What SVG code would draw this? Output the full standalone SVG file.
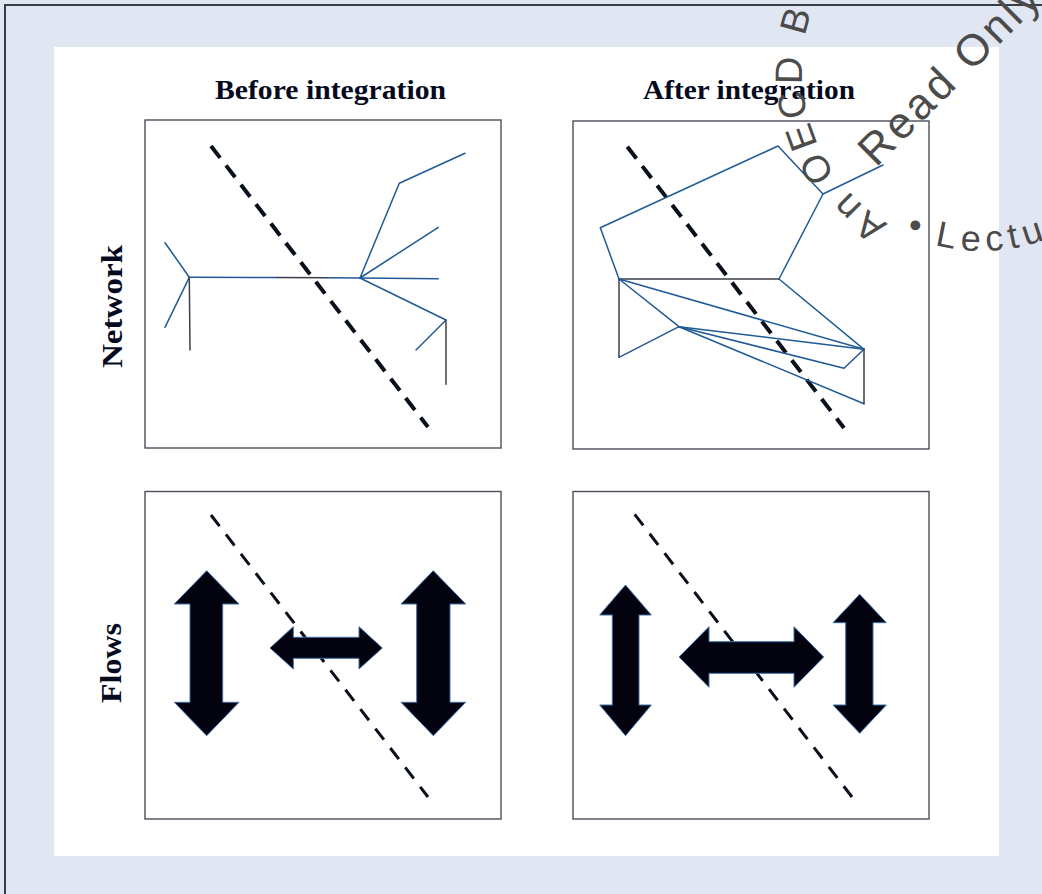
<svg xmlns="http://www.w3.org/2000/svg" width="1042" height="894" viewBox="0 0 1042 894">
<style>
.title{font-family:"Liberation Serif","Times New Roman",serif;font-weight:bold;fill:#050a1e;}
.panel{fill:#ffffff;stroke:#4a4f5a;stroke-width:1.4;}
.net{fill:none;stroke:#1f5a96;stroke-width:1.5;stroke-linecap:round;stroke-linejoin:round;}
.netg{fill:none;stroke:#3a3f48;stroke-width:1.5;stroke-linecap:round;}
.dnet{fill:none;stroke:#0a0f1e;stroke-width:4;stroke-dasharray:15 9.5;}
.dflow{fill:none;stroke:#0a0f1e;stroke-width:3;stroke-dasharray:14 10.5;}
.arrow{fill:#02030f;stroke:#3b6fa8;stroke-width:1;stroke-linejoin:miter;}
.wm{font-family:"Liberation Sans",Arial,sans-serif;fill:#4b4b4b;}
</style>
<defs>
<path id="arcTop" d="M 892,225.9 A 180,180 0 0,1 1072,-85.9"/>
<path id="arcBot" d="M 825.25,160.5 A 181,181 0 0,0 1163,70"/>
</defs>
<rect x="0" y="0" width="1042" height="894" fill="#e1e6f3"/>
<rect x="5" y="5" width="1100" height="1000" fill="none" stroke="#3c3c44" stroke-width="2"/>
<rect x="54" y="47" width="945" height="809" fill="#ffffff"/>

<g id="labels">
<text class="title" x="215" y="99" font-size="28" textLength="231" lengthAdjust="spacingAndGlyphs">Before integration</text>
<text class="title" x="643" y="99" font-size="28" textLength="212" lengthAdjust="spacingAndGlyphs">After integration</text>
<text class="title" font-size="30" transform="translate(121.5,368) rotate(-90)" textLength="123" lengthAdjust="spacingAndGlyphs">Network</text>
<text class="title" font-size="30" transform="translate(121,703) rotate(-90)" textLength="80" lengthAdjust="spacingAndGlyphs">Flows</text>
</g>

<g id="panel-network-before">
<rect class="panel" x="145" y="120" width="356" height="328"/>
<line class="dnet" x1="211" y1="146" x2="428" y2="427"/>
<g id="connectors-before">
<polyline class="net" points="165,242.7 189.3,277.3 165,327.3"/>
<line class="netg" x1="189.3" y1="277.3" x2="190" y2="350"/>
<line class="net" x1="189.3" y1="277.3" x2="277" y2="277.6"/>
<line class="netg" x1="277" y1="277.6" x2="327" y2="277.8"/>
<line class="net" x1="327" y1="277.8" x2="360" y2="278"/>
<polyline class="net" points="360,278 399.3,183.3 465,153.3"/>
<line class="net" x1="360" y1="278" x2="438.3" y2="227.3"/>
<line class="net" x1="360" y1="278" x2="438.3" y2="278.7"/>
<polyline class="net" points="360,278 446,320 416,350"/>
<line class="netg" x1="446" y1="320" x2="446" y2="384.3"/>
</g>
</g>

<g id="panel-network-after">
<rect class="panel" x="573" y="121" width="356" height="328"/>
<line class="dnet" x1="627.3" y1="146.7" x2="844" y2="428"/>
<g id="connectors-after">
<polyline class="net" points="619,279 600.3,227.7 778,146 823,194 883,165"/>
<line class="net" x1="823" y1="194" x2="779" y2="279"/>
<line class="netg" x1="619" y1="279" x2="779" y2="279"/>
<line class="netg" x1="619" y1="279" x2="619" y2="357.3"/>
<line class="net" x1="619" y1="357.3" x2="679" y2="326.7"/>
<line class="net" x1="619" y1="279" x2="679" y2="326.7"/>
<line class="net" x1="619" y1="279" x2="864" y2="349.3"/>
<line class="net" x1="779" y1="279" x2="864" y2="349.3"/>
<line class="net" x1="679" y1="326.7" x2="864" y2="349.3"/>
<polyline class="net" points="679,326.7 844,368.3 864,349.3"/>
<line class="net" x1="679" y1="326.7" x2="864" y2="403.7"/>
<line class="netg" x1="864" y1="349.3" x2="864" y2="403.7"/>
</g>
</g>

<g id="panel-flows-before">
<rect class="panel" x="145" y="491.5" width="356" height="327.5"/>
<line class="dflow" x1="211" y1="515" x2="428" y2="797"/>
<polygon class="arrow" points="206.7,570.7 239,604 222.7,604 222.7,702.3 239,702.3 206.7,735.7 174.3,702.3 190,702.3 190,604 174.3,604"/>
<polygon class="arrow" points="270,648 293.3,626.7 293.3,637.3 359,637.3 359,626.7 382.3,648 359,669 359,658.3 293.3,658.3 293.3,669"/>
<polygon class="arrow" points="433.3,570.7 465.7,604 450,604 450,702.3 465.7,702.3 433.3,735.7 401,702.3 416.7,702.3 416.7,604 401,604"/>
</g>

<g id="panel-flows-after">
<rect class="panel" x="573" y="491.5" width="356" height="327.5"/>
<line class="dflow" x1="634.7" y1="514.3" x2="852" y2="797"/>
<polygon class="arrow" points="625.5,585 651.3,615 639,615 639,705 651.3,705 625.5,735.7 599.7,705 612.3,705 612.3,615 599.7,615"/>
<polygon class="arrow" points="679,657 709,626.7 709,641.7 794,641.7 794,626.7 823.7,657 794,687.3 794,673.3 709,673.3 709,687.3"/>
<polygon class="arrow" points="859.7,594.3 886.3,622.7 873,622.7 873,705 886.3,705 859.7,733.3 833,705 845.7,705 845.7,622.7 833,622.7"/>
</g>

<g id="watermark">
<text class="wm" font-size="38" letter-spacing="5"><textPath href="#arcTop" startOffset="4.6">An OECD B</textPath></text>
<text class="wm" font-size="36" letter-spacing="6" word-spacing="-3"><textPath href="#arcBot" startOffset="110">• Lectu</textPath></text>
<text class="wm" font-size="44" letter-spacing="3.5" transform="translate(876,168) rotate(-45)">Read Only</text>
</g>
</svg>
